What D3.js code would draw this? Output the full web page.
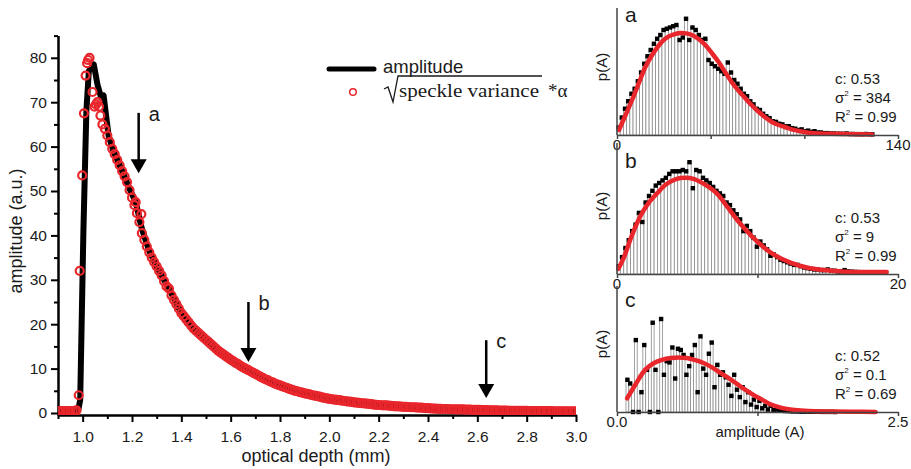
<!doctype html>
<html>
<head>
<meta charset="utf-8">
<title>amplitude vs optical depth</title>
<script src="https://cdnjs.cloudflare.com/ajax/libs/d3/7.8.5/d3.min.js"></script>
<style>
  body { margin: 0; background: #fff; }
  svg { display: block; font-family: "Liberation Sans", Arial, sans-serif; }
  .axis path, .axis line { stroke: #000; stroke-width: 2; }
  .axis text { font-size: 15.5px; fill: #1a1a1a; font-family: "Liberation Sans", Arial, sans-serif; }
  .paxis path, .paxis line { stroke: #444; stroke-width: 1.5; }
  .title { font-size: 18px; fill: #1a1a1a; }
  .ptext { font-size: 15px; fill: #1a1a1a; }
  .bar { fill: #fff; stroke: #8c8c8c; stroke-width: 0.8; }
  .fit { fill: none; stroke: #e8262b; stroke-width: 4.5; stroke-linecap: round; }
</style>
</head>
<body>
<svg width="911" height="469"></svg>
<script>
// ---- main chart data ----
const depthTicks = [1.0, 1.2, 1.4, 1.6, 1.8, 2.0, 2.2, 2.4, 2.6, 2.8, 3.0];
const depthMinor = [0.9, 1.1, 1.3, 1.5, 1.7, 1.9, 2.1, 2.3, 2.5, 2.7, 2.9];
const ampTicks = [0, 10, 20, 30, 40, 50, 60, 70, 80];
const ampMinor = [5, 15, 25, 35, 45, 55, 65, 75, 85];

// amplitude (black line): [depth mm, amplitude a.u.]
const amplitude = [
  [0.90,0.5],[0.95,0.5],[0.982,0.6],[0.99,3],[1.003,41],[1.015,68],[1.025,77],[1.045,78.5],
  [1.06,74],[1.075,71],[1.085,71.5],[1.095,67],[1.105,62.5],[1.125,59],[1.16,54.5],[1.19,50.5],
  [1.215,47.5],[1.24,41.5],[1.27,36.5],[1.30,33],[1.35,28],[1.40,22.5],[1.45,19],[1.50,16.5],
  [1.55,14],[1.60,12],[1.65,10.3],[1.70,8.8],[1.75,7.4],[1.80,6.2],[1.90,4.4],[2.00,3.1],
  [2.10,2.4],[2.20,1.8],[2.30,1.4],[2.40,1.1],[2.50,0.85],[2.60,0.7],[2.80,0.5],[3.00,0.4]
];

// sqrt(speckle variance)*alpha (red circles): [depth mm, value]
const speckle = [
  [0.90,0.45],[0.91,0.45],[0.92,0.45],[0.93,0.45],[0.94,0.45],[0.95,0.45],[0.96,0.45],[0.97,0.5],[0.975,0.6],
  [0.984,4],[0.988,32],[0.998,53.5],[1.005,67.5],[1.012,76],[1.018,78.8],[1.022,79.5],[1.028,80],
  [1.04,72.3],[1.048,69],[1.054,69.5],[1.06,70],[1.066,69],[1.072,67],
  [1.08,65],[1.09,64],[1.10,62.5],[1.11,61],[1.12,59.5],[1.13,58.3],[1.14,57],[1.15,55.8],[1.16,54.5],[1.17,53.3],
  [1.18,52],[1.19,50.2],[1.20,48.5],[1.21,46.8],[1.215,47.5],[1.22,45],[1.23,43],[1.238,44.8],[1.24,40.5],[1.25,39],
  [1.26,37.5],[1.27,36.2],[1.28,35],[1.29,34],[1.30,33],[1.31,32],[1.32,31],[1.33,29.7],[1.34,28.5],[1.35,28],
  [1.36,26.5],[1.37,25.5],[1.38,24.5],[1.39,23.5],[1.40,22.5],[1.41,21.8],[1.42,21.1],[1.43,20.4],[1.44,19.7],[1.45,19],
  [1.46,18.5],[1.47,18],[1.48,17.5],[1.49,17],[1.50,16.5],[1.51,16],[1.52,15.5],[1.53,15],[1.54,14.5],[1.55,14],
  [1.56,13.6],[1.57,13.2],[1.58,12.8],[1.59,12.4],[1.60,12],[1.61,11.7],[1.62,11.3],[1.63,11],[1.64,10.6],[1.65,10.3],
  [1.66,10],[1.67,9.7],[1.68,9.4],[1.69,9.1],[1.70,8.8],[1.71,8.5],[1.72,8.2],[1.73,7.9],[1.74,7.6],[1.75,7.4],
  [1.76,7.1],[1.77,6.9],[1.78,6.6],[1.79,6.4],[1.80,6.2],[1.81,6],[1.82,5.8],[1.83,5.6],[1.84,5.4],[1.85,5.2],
  [1.86,5],[1.87,4.9],[1.88,4.7],[1.89,4.6],[1.90,4.4],[1.91,4.3],[1.92,4.2],[1.93,4],[1.94,3.9],[1.95,3.8],
  [1.96,3.7],[1.97,3.5],[1.98,3.4],[1.99,3.3],[2.00,3.2],[2.01,3.1],[2.02,3],[2.03,2.95],[2.04,2.9],[2.05,2.8],
  [2.06,2.7],[2.07,2.6],[2.08,2.55],[2.09,2.5],[2.10,2.4],[2.11,2.35],[2.12,2.3],[2.13,2.2],[2.14,2.15],[2.15,2.1],
  [2.16,2.05],[2.17,2],[2.18,1.9],[2.19,1.85],[2.20,1.8],[2.21,1.75],[2.22,1.7],[2.23,1.7],[2.24,1.65],[2.25,1.6],
  [2.26,1.55],[2.27,1.5],[2.28,1.5],[2.29,1.45],[2.30,1.4],[2.31,1.4],[2.32,1.35],[2.33,1.3],[2.34,1.3],[2.35,1.25],
  [2.36,1.2],[2.37,1.2],[2.38,1.15],[2.39,1.1],[2.40,1.1],[2.41,1.05],[2.42,1],[2.43,1],[2.44,0.95],[2.45,0.95],
  [2.46,0.9],[2.47,0.9],[2.48,0.9],[2.49,0.85],[2.50,0.85],[2.51,0.8],[2.52,0.8],[2.53,0.8],[2.54,0.8],[2.55,0.75],
  [2.56,0.75],[2.57,0.75],[2.58,0.7],[2.59,0.7],[2.60,0.7],[2.61,0.7],[2.62,0.65],[2.63,0.65],[2.64,0.65],[2.65,0.6],
  [2.66,0.6],[2.67,0.6],[2.68,0.6],[2.69,0.55],[2.70,0.55],[2.71,0.55],[2.72,0.55],[2.73,0.5],[2.74,0.5],[2.75,0.5],
  [2.76,0.5],[2.77,0.5],[2.78,0.5],[2.79,0.5],[2.80,0.5],[2.81,0.45],[2.82,0.45],[2.83,0.45],[2.84,0.45],[2.85,0.45],
  [2.86,0.45],[2.87,0.45],[2.88,0.45],[2.89,0.45],[2.90,0.45],[2.91,0.4],[2.92,0.4],[2.93,0.4],[2.94,0.4],[2.95,0.4],
  [2.96,0.4],[2.97,0.4],[2.98,0.4],[2.99,0.4],[3.00,0.4]
];

// arrows marking where the histograms were taken: depth, top and tip amplitude
const arrowNames = ["a", "b", "c"];
const arrowDepth = [1.227, 1.672, 2.636];
const arrowTop = [67.6, 25, 16.4];
const arrowTip = [54, 11.5, 3.4];

// ---- histogram panels (p(A) in % of panel height) ----
const panelNames = ["a", "b", "c"];
const panelMax = [140, 20, 2.5];
const panelMid = [[140 / 3, 280 / 3], [10], [1.25]];
const panelEndLabels = [["0", "140"], ["0", "20"], ["0.0", "2.5"]];
const panelStart = [0, 0, 0.08];
const panelBin = [1.6, 0.24, 0.025];
const panelC = ["c: 0.53", "c: 0.53", "c: 0.52"];
const panelSigma = ["384", "9", "0.1"];
const panelR2 = ["0.99", "0.99", "0.69"];

const histA = [6,14,21,27,33,37,43,50,57,63,68,73,77,80,84,85,86,87,88,76,
  78,93,76,86,84,80,76,77,60,57,55,53,51,49,58,50,44,41,37,33,
  31,27,24.5,21,20,17,15,13.5,11,10.5,9,8.5,7,7,5.5,5,4,4.5,3,3.5,
  2.5,3,2,2,1.5,1.5,1.2,1.2,1,1,0.9,1.2,0.8,0.8,0.7,0.7,0.6,0.8,0.6,0.5];
const fitA = [[1,4],[4,15],[7.5,28],[11,42],[14,54],[17.5,64],[21,72],[24,77],[27.4,80],[31.4,81.6],
  [34.5,81.3],[37.4,80],[40.5,77],[44,72],[47.5,65],[50.8,58],[54,50],[57.3,42],[60.5,35.5],[63.8,29.6],
  [67,24],[70.7,18.4],[74,14],[77.2,10.4],[80.5,8],[83.7,6.4],[87,4.5],[90.7,3.2],[94,2.2],[97,1.6],
  [101,1.2],[105.6,1],[115,0.7],[127,0.5]];

const histB = [6,13,20,26,33,38,47,40,55,60,64,68,70,72,74,77,79,79,79,80,
  79,86,66,80,79,74,72,70,67,64,62,60,55,53,49,46,42,33,37,33,
  28,21,25,22,19,14,15,13,11,10,9,8,7,7,6,5,4.5,4,3.5,3.5,
  3,3,3.5,2.5,2.5,2,2,3,2,1.8,1.6,1.5,1.4,1.4,1.3,1.3,1.2,1.2,1.2,1.2];
const fitB = [[0.1,4],[0.5,13],[1,28],[1.64,44],[2.2,54],[2.85,62],[3.5,69],[4.2,73],[4.84,74],[5.5,73],
  [6.3,68.5],[7.1,62],[7.9,51],[8.75,39],[9.6,29],[10.4,21],[11.3,14],[12.3,9],[13.5,5],[14.7,3],
  [16,2],[17.5,1.6],[19.2,1.5]];

const histC = [26,23,0,58,0,16,54,34,0,72,34,0,75,30,41,40,52,27,51,50,
  46,30,37,46,54,16,61,35,30,47,56,20,38,30,32,28,22,13,30,18,
  12,20,8,16,6,10,4,9,3,5,2,5,1.5,2,1,1,0.8,0.8,0.6,0.5,
  0.5,0.4,0.3,0.3,0.3,0.2,0.2,0.2,0.2,0.1,0.1,0.1,0.1,0.1,0];
const fitC = [[0.09,11],[0.17,23],[0.25,34],[0.33,39.5],[0.40,42],[0.48,43.5],[0.55,44],[0.62,43.5],[0.69,42],[0.77,39.5],
  [0.845,36],[0.92,31.5],[1.0,27],[1.07,22.5],[1.14,18],[1.21,14],[1.29,10],[1.36,6.5],[1.44,4],[1.51,2.5],
  [1.58,1.6],[1.7,0.8],[1.9,0.4],[2.1,0.2],[2.3,0]];

const panelHist = [histA, histB, histC];
const panelFit = [fitA, fitB, fitC];

// ---- drawing ----
const svg = d3.select("svg");
const red = "#e8262b";

const x = d3.scaleLinear().domain([0.9, 3.0]).range([58, 576]);
const y = d3.scaleLinear().domain([-0.45, 85]).range([415, 35.6]);

svg.append("defs").append("clipPath").attr("id", "plotclip")
  .append("rect").attr("x", 58).attr("y", 0).attr("width", 518).attr("height", 415);

// minor ticks
svg.append("g").attr("class", "axis").attr("transform", "translate(0,415)")
  .call(d3.axisBottom(x).tickValues(depthMinor).tickSize(4).tickSizeOuter(0).tickFormat(""));
svg.append("g").attr("class", "axis").attr("transform", "translate(58,0)")
  .call(d3.axisLeft(y).tickValues(ampMinor).tickSize(4).tickSizeOuter(0).tickFormat(""));

svg.append("g").attr("class", "axis").attr("transform", "translate(0,415)")
  .call(d3.axisBottom(x).tickValues(depthTicks).tickSize(7).tickSizeOuter(0).tickPadding(9).tickFormat(d3.format(".1f")));
svg.append("g").attr("class", "axis").attr("transform", "translate(58,0)")
  .call(d3.axisLeft(y).tickValues(ampTicks).tickSize(7).tickSizeOuter(0).tickPadding(4));

svg.append("text").attr("class", "title").attr("x", 316).attr("y", 462)
  .attr("text-anchor", "middle").text("optical depth (mm)");
svg.append("text").attr("class", "title").attr("transform", "translate(22,231) rotate(-90)")
  .attr("text-anchor", "middle").text("amplitude (a.u.)");

const plot = svg.append("g").attr("clip-path", "url(#plotclip)");

plot.append("path").datum(amplitude)
  .attr("fill", "none").attr("stroke", "#000").attr("stroke-width", 6).attr("stroke-linejoin", "round")
  .attr("d", d3.line().x(d => x(d[0])).y(d => y(d[1])));

plot.selectAll("circle.sv").data(speckle).join("circle")
  .attr("class", "sv")
  .attr("cx", d => x(d[0])).attr("cy", d => y(d[1])).attr("r", 4)
  .attr("fill", "none").attr("stroke", red).attr("stroke-width", 2.2);

// arrows
arrowNames.forEach((n, i) => {
  const ax = x(arrowDepth[i]), y0 = y(arrowTop[i]), y1 = y(arrowTip[i]);
  svg.append("line").attr("x1", ax).attr("x2", ax).attr("y1", y0).attr("y2", y1 - 10)
    .attr("stroke", "#000").attr("stroke-width", 2.5);
  svg.append("path").attr("d", `M${ax - 8},${y1 - 14} L${ax + 8},${y1 - 14} L${ax},${y1} Z`).attr("fill", "#000");
  svg.append("text").attr("x", ax + 10).attr("y", y0 + 8).attr("font-size", 20).attr("fill", "#1a1a1a").text(n);
});

// legend
const leg = svg.append("g");
leg.append("line").attr("x1", 329).attr("x2", 374).attr("y1", 69).attr("y2", 69)
  .attr("stroke", "#000").attr("stroke-width", 5).attr("stroke-linecap", "round");
leg.append("text").attr("x", 383).attr("y", 73).attr("font-size", 18.5).attr("fill", "#1a1a1a").text("amplitude");
leg.append("circle").attr("cx", 353).attr("cy", 92).attr("r", 3.3)
  .attr("fill", "none").attr("stroke", red).attr("stroke-width", 1.5);
leg.append("path").attr("d", "M384,89 L388,87 L393,102 L398,76 L542,76")
  .attr("fill", "none").attr("stroke", "#1a1a1a").attr("stroke-width", 1.3);
leg.append("text").attr("x", 399).attr("y", 97).attr("font-size", 19)
  .attr("font-family", "'Liberation Serif', 'DejaVu Serif', serif")
  .attr("textLength", 140).attr("lengthAdjust", "spacingAndGlyphs")
  .attr("fill", "#1a1a1a").text("speckle variance");
leg.append("text").attr("x", 548).attr("y", 97).attr("font-size", 19)
  .attr("font-family", "'Liberation Serif', 'DejaVu Serif', serif").attr("fill", "#1a1a1a").text("*α");

// histogram panels
const pLeft = 617, pRight = 898;
const pAxisY = [135, 274, 412];
const pScaleTop = [10, 144, 288];
const pLineTop = [8, 143, 286];
const pLetterY = [22, 168, 307];

panelNames.forEach((name, i) => {
  const px = d3.scaleLinear().domain([0, panelMax[i]]).range([pLeft, pRight]);
  const py = d3.scaleLinear().domain([0, 100]).range([pAxisY[i], pScaleTop[i]]);
  const g = svg.append("g");
  const hist = panelHist[i];
  const bin = panelBin[i];

  g.selectAll("rect.bar").data(hist).join("rect").attr("class", "bar")
    .attr("x", (d, k) => px(panelStart[i] + k * bin))
    .attr("width", px(bin) - px(0))
    .attr("y", d => py(d))
    .attr("height", d => py(0) - py(d));

  g.selectAll("rect.mk").data(hist).join("rect").attr("class", "mk")
    .attr("x", (d, k) => px(panelStart[i] + (k + 0.5) * bin) - 2.2)
    .attr("y", d => py(d) - 2.2).attr("width", 4.4).attr("height", 4.4).attr("fill", "#000");

  g.append("path").datum(panelFit[i]).attr("class", "fit")
    .attr("d", d3.line().curve(d3.curveCatmullRom).x(d => px(d[0])).y(d => py(d[1])));

  g.append("g").attr("class", "paxis").attr("transform", `translate(0,${pAxisY[i]})`)
    .call(d3.axisBottom(px).tickValues([0, ...panelMid[i], panelMax[i]]).tickSize(4).tickSizeOuter(0).tickFormat(""));
  g.append("line").attr("x1", pLeft).attr("x2", pLeft).attr("y1", pLineTop[i]).attr("y2", pAxisY[i])
    .attr("stroke", "#444").attr("stroke-width", 1.5);

  g.append("text").attr("class", "ptext").attr("x", px(0)).attr("y", pAxisY[i] + 15)
    .attr("text-anchor", "middle").text(panelEndLabels[i][0]);
  g.append("text").attr("class", "ptext").attr("x", px(panelMax[i])).attr("y", pAxisY[i] + 15)
    .attr("text-anchor", "middle").text(panelEndLabels[i][1]);

  g.append("text").attr("x", 625).attr("y", pLetterY[i]).attr("font-size", 21).attr("fill", "#1a1a1a").text(name);
  g.append("text").attr("class", "ptext").attr("font-size", 15.5)
    .attr("transform", `translate(607,${pAxisY[i] - 68}) rotate(-90)`)
    .attr("text-anchor", "middle").text("p(A)");

  const sx = 835, sy = pAxisY[i] - 51;
  g.append("text").attr("class", "ptext").attr("x", sx).attr("y", sy).text(panelC[i]);
  const s = g.append("text").attr("class", "ptext").attr("x", sx).attr("y", sy + 19);
  s.append("tspan").text("σ");
  s.append("tspan").attr("font-size", 8).attr("dy", -7).text("2");
  s.append("tspan").attr("dy", 7).text(" = " + panelSigma[i]);
  const r = g.append("text").attr("class", "ptext").attr("x", sx).attr("y", sy + 38);
  r.append("tspan").text("R");
  r.append("tspan").attr("font-size", 8).attr("dy", -7).text("2");
  r.append("tspan").attr("dy", 7).text(" = " + panelR2[i]);
});

svg.append("text").attr("class", "ptext").attr("font-size", 16).attr("x", 760).attr("y", 437)
  .attr("text-anchor", "middle").text("amplitude (A)");
</script>
</body>
</html>
